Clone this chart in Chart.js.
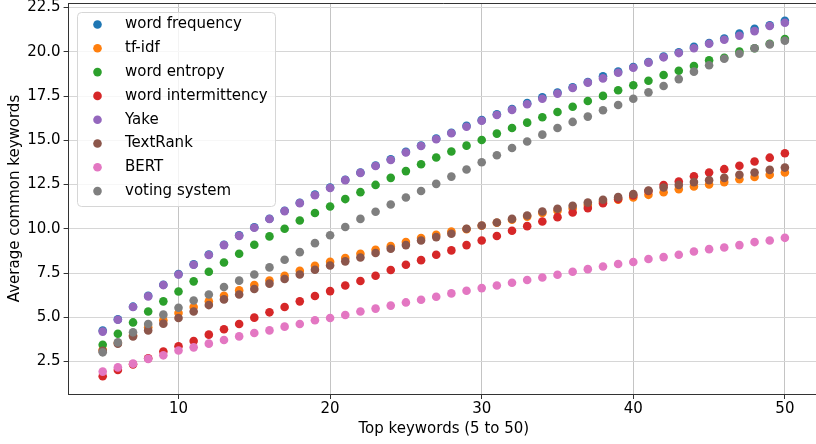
<!DOCTYPE html>
<html lang="en">
<head>
    <meta charset="UTF-8">
    <title>Average common keywords</title>
    <script src="https://cdn.jsdelivr.net/npm/chart.js"></script>
    <style>
        html, body { margin: 0; padding: 0; background: #fff; overflow: hidden; }
        #wrap { width: 822px; height: 444px; }
    </style>
</head>
<body>
    <div id="wrap"><canvas id="keywordChart" width="822" height="444"></canvas></div>

    <script>
        // Top-k values on the x axis
        const topK = [5, 6, 7, 8, 9, 10, 11, 12, 13, 14, 15, 16, 17, 18, 19, 20, 21, 22, 23, 24, 25, 26, 27,
            28, 29, 30, 31, 32, 33, 34, 35, 36, 37, 38, 39, 40, 41, 42, 43, 44, 45, 46, 47, 48, 49, 50];

        const wordFrequency = [4.25, 4.88, 5.60, 6.22, 6.84, 7.44, 7.99, 8.55, 9.10, 9.63, 10.09, 10.57, 11.02,
            11.47, 11.93, 12.33, 12.77, 13.18, 13.58, 13.93, 14.35, 14.71, 15.10, 15.43, 15.82, 16.14, 16.47,
            16.77, 17.10, 17.43, 17.70, 18.00, 18.30, 18.62, 18.88, 19.14, 19.43, 19.73, 19.98, 20.28, 20.50,
            20.75, 21.04, 21.30, 21.50, 21.76];
        const tfIdf = [3.16, 3.55, 3.98, 4.43, 4.83, 5.24, 5.58, 5.90, 6.22, 6.52, 6.82, 7.08, 7.35, 7.63, 7.91,
            8.14, 8.35, 8.59, 8.81, 9.02, 9.25, 9.48, 9.66, 9.85, 9.98, 10.17, 10.34, 10.51, 10.69, 10.89, 11.02,
            11.15, 11.35, 11.54, 11.65, 11.77, 11.92, 12.07, 12.24, 12.39, 12.50, 12.64, 12.80, 12.93, 13.05, 13.18];
        const wordEntropy = [3.45, 4.07, 4.71, 5.33, 5.90, 6.46, 7.03, 7.57, 8.10, 8.59, 9.10, 9.57, 10.00,
            10.47, 10.89, 11.26, 11.68, 12.07, 12.48, 12.88, 13.26, 13.65, 14.03, 14.37, 14.70, 15.02, 15.38,
            15.70, 16.00, 16.30, 16.60, 16.90, 17.22, 17.51, 17.83, 18.11, 18.37, 18.69, 18.93, 19.20, 19.52,
            19.67, 20.01, 20.20, 20.46, 20.72];
        const wordIntermittency = [1.67, 2.02, 2.34, 2.68, 3.06, 3.36, 3.66, 4.02, 4.32, 4.62, 4.98, 5.28, 5.58,
            5.90, 6.20, 6.48, 6.80, 7.05, 7.35, 7.67, 7.97, 8.23, 8.53, 8.78, 9.08, 9.34, 9.59, 9.89, 10.15,
            10.41, 10.66, 10.92, 11.17, 11.45, 11.68, 11.88, 12.14, 12.47, 12.67, 12.97, 13.18, 13.37, 13.56,
            13.80, 14.02, 14.27];
        const yake = [4.19, 4.86, 5.58, 6.18, 6.82, 7.42, 7.97, 8.52, 9.08, 9.60, 10.06, 10.55, 11.00, 11.45,
            11.90, 12.31, 12.75, 13.16, 13.55, 13.89, 14.31, 14.68, 15.06, 15.40, 15.77, 16.11, 16.43, 16.72,
            17.04, 17.35, 17.64, 17.96, 18.26, 18.50, 18.82, 19.10, 19.39, 19.69, 19.93, 20.20, 20.46, 20.68,
            20.91, 21.17, 21.46, 21.64];
        const textRank = [3.10, 3.51, 3.92, 4.26, 4.64, 4.96, 5.33, 5.69, 6.01, 6.29, 6.60, 6.90, 7.16, 7.42,
            7.69, 7.93, 8.16, 8.38, 8.63, 8.87, 9.08, 9.34, 9.53, 9.72, 10.00, 10.19, 10.36, 10.56, 10.75, 10.98,
            11.13, 11.30, 11.48, 11.64, 11.79, 11.96, 12.16, 12.33, 12.48, 12.64, 12.75, 12.88, 13.05, 13.18,
            13.33, 13.46];
        const bert = [1.93, 2.17, 2.38, 2.65, 2.85, 3.12, 3.30, 3.51, 3.72, 3.92, 4.11, 4.26, 4.47, 4.62, 4.83,
            4.96, 5.13, 5.33, 5.49, 5.66, 5.84, 5.99, 6.16, 6.35, 6.50, 6.65, 6.80, 6.95, 7.11, 7.25, 7.40, 7.57,
            7.72, 7.87, 8.01, 8.12, 8.29, 8.40, 8.53, 8.72, 8.85, 8.94, 9.08, 9.25, 9.34, 9.49];
        const votingSystem = [3.02, 3.58, 4.15, 4.62, 5.15, 5.54, 5.95, 6.29, 6.71, 7.07, 7.42, 7.82, 8.25,
            8.68, 9.19, 9.64, 10.10, 10.56, 10.96, 11.37, 11.77, 12.14, 12.54, 12.95, 13.35, 13.76, 14.16,
            14.57, 14.93, 15.32, 15.70, 16.04, 16.34, 16.70, 17.00, 17.35, 17.71, 18.07, 18.46, 18.88, 19.24,
            19.61, 19.89, 20.20, 20.42, 20.63];

        const seriesNames = ['word frequency', 'tf-idf', 'word entropy', 'word intermittency',
            'Yake', 'TextRank', 'BERT', 'voting system'];
        const seriesValues = [wordFrequency, tfIdf, wordEntropy, wordIntermittency,
            yake, textRank, bert, votingSystem];
        const seriesColors = ['#1f77b4', '#ff7f0e', '#2ca02c', '#d62728',
            '#9467bd', '#8c564b', '#e377c2', '#7f7f7f'];

        const xTicks = [10, 20, 30, 40, 50];
        const yTicks = [2.5, 5.0, 7.5, 10.0, 12.5, 15.0, 17.5, 20.0, 22.5];

        const FONT = 'DejaVu Sans';

        const datasets = seriesNames.map((name, i) => ({
            label: name,
            data: topK.map((k, j) => ({ x: k, y: seriesValues[i][j] })),
            backgroundColor: seriesColors[i],
            borderColor: seriesColors[i],
            pointRadius: 4.3,
            pointBorderWidth: 0,
            // later series sit on top of earlier ones
            order: seriesNames.length - 1 - i
        }));

        // legend box drawn inside the plot, upper left
        const insideLegend = {
            id: 'insideLegend',
            afterDatasetsDraw(chart) {
                const ctx = chart.ctx;
                const x0 = 77, y0 = 12, w = 198, h = 194, r = 4;
                ctx.save();
                ctx.beginPath();
                ctx.roundRect(x0 + 0.5, y0 + 0.5, w, h, r);
                ctx.fillStyle = 'rgba(255,255,255,0.8)';
                ctx.fill();
                ctx.strokeStyle = '#d6d6d6';
                ctx.lineWidth = 1;
                ctx.stroke();
                ctx.font = '15px "' + FONT + '"';
                ctx.textBaseline = 'middle';
                ctx.textAlign = 'left';
                seriesNames.forEach((name, i) => {
                    const cy = 24.5 + i * 23.8;
                    ctx.beginPath();
                    ctx.arc(97.5, cy, 4.3, 0, Math.PI * 2);
                    ctx.fillStyle = seriesColors[i];
                    ctx.fill();
                    ctx.fillStyle = '#000';
                    ctx.fillText(name, 125, cy);
                });
                ctx.restore();
            }
        };

        // top spine
        const topSpine = {
            id: 'topSpine',
            afterDraw(chart) {
                const { ctx, chartArea } = chart;
                ctx.save();
                ctx.strokeStyle = '#333';
                ctx.lineWidth = 1;
                ctx.beginPath();
                ctx.moveTo(chartArea.left, chartArea.top + 0.5);
                ctx.lineTo(chartArea.right, chartArea.top + 0.5);
                ctx.stroke();
                ctx.restore();
            }
        };

        const ctx = document.getElementById('keywordChart').getContext('2d');
        const keywordChart = new Chart(ctx, {
            type: 'scatter',
            data: { datasets },
            options: {
                responsive: false,
                animation: false,
                layout: { autoPadding: false, padding: { top: 3, right: 3, left: 0, bottom: 0 } },
                plugins: {
                    legend: { display: false },
                    tooltip: { enabled: false }
                },
                scales: {
                    x: {
                        type: 'linear',
                        min: 2.75,
                        max: 52.25,
                        afterBuildTicks: s => { s.ticks = xTicks.map(v => ({ value: v })); },
                        afterFit: s => {
                            s.height = 50;
                            s.paddingLeft = 0;
                            s.paddingRight = 0;
                        },
                        grid: { color: '#c4c4c4', tickColor: '#333', tickLength: 5 },
                        border: { color: '#333' },
                        ticks: {
                            color: '#000',
                            padding: 1,
                            maxRotation: 0,
                            font: { family: FONT, size: 15 },
                            callback: v => String(v)
                        },
                        title: {
                            display: true,
                            text: 'Top keywords (5 to 50)',
                            color: '#000',
                            font: { family: FONT, size: 15 },
                            padding: { top: 0, bottom: 6 }
                        }
                    },
                    y: {
                        type: 'linear',
                        min: 0.665,
                        max: 22.76,
                        afterBuildTicks: s => { s.ticks = yTicks.map(v => ({ value: v })); },
                        afterFit: s => {
                            s.width = 68.6;
                            s.paddingTop = 0;
                            s.paddingBottom = 0;
                        },
                        grid: { color: '#d6d6d6', tickColor: '#333', tickLength: 5 },
                        border: { color: '#333' },
                        ticks: {
                            color: '#000',
                            padding: 3,
                            font: { family: FONT, size: 15 },
                            callback: v => v.toFixed(1)
                        },
                        title: {
                            display: true,
                            text: 'Average common keywords',
                            color: '#000',
                            font: { family: FONT, size: 15 },
                            padding: { top: 6, bottom: 0 }
                        }
                    }
                }
            },
            plugins: [insideLegend, topSpine]
        });
    </script>
</body>
</html>
